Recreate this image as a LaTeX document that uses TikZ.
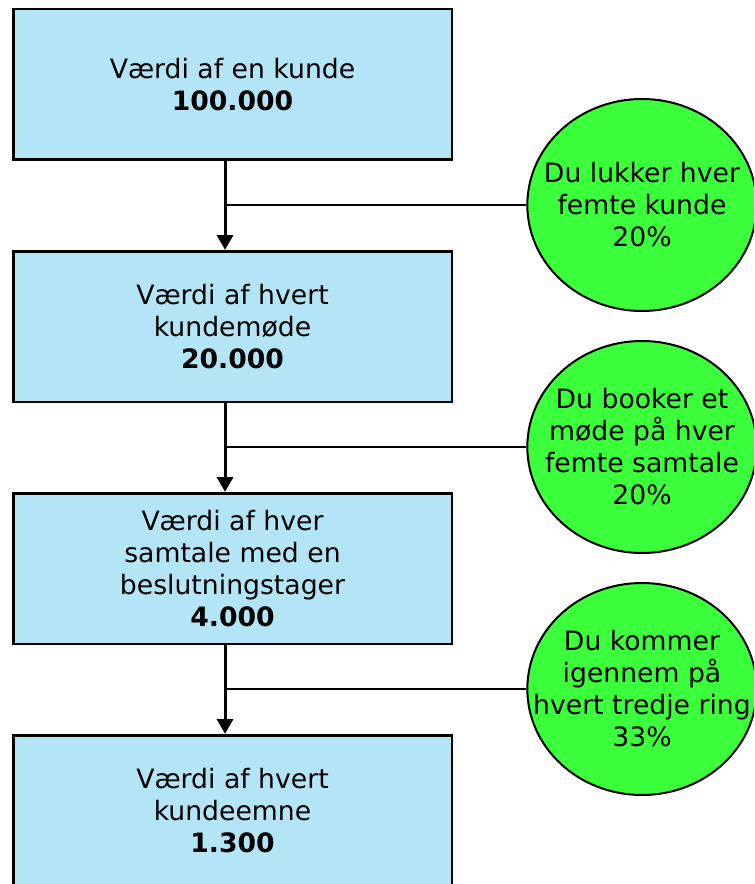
\documentclass[tikz,border=0pt]{standalone}
\usepackage{fontspec}
\setmainfont{DejaVu Sans}
\usetikzlibrary{arrows.meta,shapes.geometric}
\definecolor{boxfill}{HTML}{B3E5F7}
\definecolor{ratefill}{HTML}{3CFF3C}
\tikzset{
  valbox/.style={draw=black,fill=boxfill,line width=2pt,align=center,minimum width=329pt,minimum height=113pt,inner sep=0pt},
  ratecirc/.style={ellipse,draw=black,fill=ratefill,line width=1.5pt,align=center,minimum width=172pt,minimum height=159pt,inner xsep=-26pt,inner ysep=0pt},
  flowarr/.style={-{Triangle[width=12pt,length=11pt]},line width=2.2pt,draw=black},
  tieline/.style={line width=1.7pt,draw=black}
}

\begin{document}
\begin{tikzpicture}[x=0.75pt,y=-0.75pt,font=\fontsize{20}{24}\selectfont]
  \clip (0,0) rectangle (754,884);
  \fill[white] (0,0) rectangle (754,884);
  \node[valbox] (kunde) at (232.5,84.5) {Værdi af en kunde\\ \textbf{100.000}};
  \node[valbox] (mode) at (232.5,326.5) {Værdi af hvert\\ kundemøde\\ \textbf{20.000}};
  \node[valbox] (samtale) at (232.5,568.5) {Værdi af hver\\ samtale med en\\ beslutningstager\\ \textbf{4.000}};
  \node[valbox] (emne) at (232.5,810.5) {Værdi af hvert\\ kundeemne\\ \textbf{1.300}};
  \node[ratecirc] (luk) at (642,205) {Du lukker hver\\ femte kunde\\ 20\%};
  \node[ratecirc] (book) at (642,447) {Du booker et\\ møde på hver\\ femte samtale\\ 20\%};
  \node[ratecirc] (ring) at (642,689) {Du kommer\\ igennem på\\ hvert tredje ring\\ 33\%};
  \coordinate (a1) at ([xshift=-5.6pt]kunde.south);
  \coordinate (a2) at ([xshift=-5.6pt]mode.south);
  \coordinate (a3) at ([xshift=-5.6pt]samtale.south);
  \draw[flowarr] (a1) -- ([xshift=-5.6pt]mode.north);
  \draw[flowarr] (a2) -- ([xshift=-5.6pt]samtale.north);
  \draw[flowarr] (a3) -- ([xshift=-5.6pt]emne.north);
  \draw[tieline] (luk.west) -- (luk.west -| a1);
  \draw[tieline] (book.west) -- (book.west -| a2);
  \draw[tieline] (ring.west) -- (ring.west -| a3);
\end{tikzpicture}
\end{document}
